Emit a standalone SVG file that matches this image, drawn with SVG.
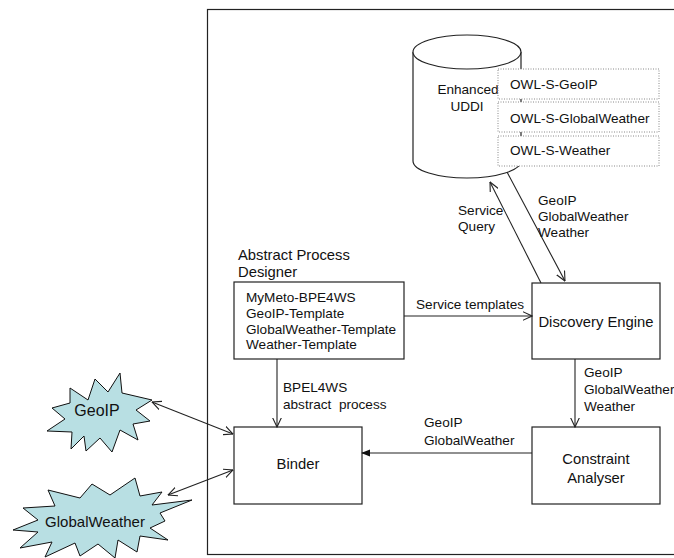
<svg xmlns="http://www.w3.org/2000/svg" width="674" height="558" viewBox="0 0 674 558">
<style>
text{font-family:"Liberation Sans",Arial,sans-serif;fill:#111;}
.box{fill:#fff;stroke:#222;stroke-width:1.2;}
.owl{fill:#fff;stroke:#888;stroke-width:1;stroke-dasharray:1,1.5;}
.conn{fill:none;stroke:#222;stroke-width:1.1;}
.star{fill:#b8dfe3;stroke:#111;stroke-width:1;}
.t13{font-size:13.6px;}
.t14{font-size:14.8px;}
</style>
<defs>
<marker id="open" viewBox="0 0 10 10" refX="9.5" refY="5" markerWidth="10" markerHeight="10" markerUnits="userSpaceOnUse" orient="auto-start-reverse">
<path d="M0,0.5 L9.5,5 L0,9.5" fill="none" stroke="#222" stroke-width="1.1"/>
</marker>
<marker id="filled" viewBox="0 0 10 10" refX="9" refY="5" markerWidth="9" markerHeight="9" markerUnits="userSpaceOnUse" orient="auto">
<path d="M0,1 L10,5 L0,9 Z" fill="#111"/>
</marker>
</defs>
<rect width="674" height="558" fill="#fff"/>
<g id="frame">
<rect x="207.5" y="9.5" width="500" height="545" fill="none" stroke="#222" stroke-width="1.2"/>
</g>
<g id="uddi">
<path d="M413,52 L413,161 A54,17 0 0 0 521,161 L521,52" fill="#fff" stroke="#222" stroke-width="1.2"/>
<ellipse cx="467" cy="52" rx="54" ry="17" fill="#fff" stroke="#222" stroke-width="1.2"/>
<text class="t13" x="468" y="94" text-anchor="middle">Enhanced</text>
<text class="t13" x="467" y="111" text-anchor="middle">UDDI</text>
</g>
<g id="owl-geoip">
<rect class="owl" x="498" y="69" width="161" height="30"/>
<text class="t13" x="510" y="89">OWL-S-GeoIP</text>
</g>
<g id="owl-globalweather">
<rect class="owl" x="498" y="102" width="161" height="30"/>
<text class="t13" x="510" y="123">OWL-S-GlobalWeather</text>
</g>
<g id="owl-weather">
<rect class="owl" x="498" y="136" width="161" height="30"/>
<text class="t13" x="510" y="155">OWL-S-Weather</text>
</g>
<g id="designer">
<text class="t14" x="238" y="260">Abstract Process</text>
<text class="t14" x="238" y="277">Designer</text>
<rect class="box" x="234" y="282" width="170" height="77"/>
<text class="t13" x="246" y="302">MyMeto-BPE4WS</text>
<text class="t13" x="246" y="318">GeoIP-Template</text>
<text class="t13" x="246" y="334">GlobalWeather-Template</text>
<text class="t13" x="246" y="349">Weather-Template</text>
</g>
<g id="discovery">
<rect class="box" x="532" y="283" width="128" height="76"/>
<text class="t14" x="596" y="327" text-anchor="middle">Discovery Engine</text>
</g>
<g id="constraint">
<rect class="box" x="532" y="427" width="128" height="77"/>
<text class="t14" x="596" y="464" text-anchor="middle">Constraint</text>
<text class="t14" x="596" y="483" text-anchor="middle">Analyser</text>
</g>
<g id="binder">
<rect class="box" x="234" y="427" width="128" height="77"/>
<text class="t14" x="298" y="469" text-anchor="middle">Binder</text>
</g>
<g id="geoip">
<polygon class="star" points="70,388 88,400 95,379 108,392 120,373 122,393 152,400 136,410 150,421 133,424 138,440 120,430 112,452 100,438 86,451 84,436 71,449 72,432 47,431 65,419 52,408 70,403"/>
<text x="97" y="416" text-anchor="middle" style="font-size:16px">GeoIP</text>
</g>
<g id="globalweather">
<polygon class="star" points="135,478 140,496 162,492 152,505 192,500 160,513 165,521 150,528 168,540 140,536 137,552 118,540 115,558 98,544 80,556 75,543 45,557 52,542 20,548 38,532 13,530 38,520 23,508 55,506 48,490 80,498 92,484 110,495"/>
<text x="95" y="527" text-anchor="middle" style="font-size:15px">GlobalWeather</text>
</g>
<g id="connectors">
<line class="conn" x1="541" y1="283" x2="490" y2="182" marker-end="url(#open)"/>
<line class="conn" x1="507" y1="172" x2="565" y2="281" marker-end="url(#open)"/>
<line class="conn" x1="404" y1="316" x2="532" y2="316" marker-end="url(#open)"/>
<line class="conn" x1="277" y1="359" x2="277" y2="427" marker-end="url(#open)"/>
<line class="conn" x1="575" y1="359" x2="575" y2="427" marker-end="url(#open)"/>
<line class="conn" x1="532" y1="453" x2="362" y2="453" marker-end="url(#filled)"/>
<line class="conn" x1="152" y1="402" x2="233" y2="434" marker-start="url(#open)" marker-end="url(#open)"/>
<line class="conn" x1="168" y1="495" x2="233" y2="470" marker-start="url(#open)" marker-end="url(#open)"/>
<text class="t13" x="458" y="215">Service</text>
<text class="t13" x="458" y="231">Query</text>
<text class="t13" x="538" y="205">GeoIP</text>
<text class="t13" x="538" y="221">GlobalWeather</text>
<text class="t13" x="538" y="237">Weather</text>
<text class="t13" x="416" y="309">Service templates</text>
<text class="t13" x="283" y="392">BPEL4WS</text>
<text class="t13" x="283" y="409" xml:space="preserve">abstract  process</text>
<text class="t13" x="584" y="377">GeoIP</text>
<text class="t13" x="584" y="394">GlobalWeather</text>
<text class="t13" x="584" y="411">Weather</text>
<text class="t13" x="424" y="427">GeoIP</text>
<text class="t13" x="424" y="445">GlobalWeather</text>
</g>
</svg>
